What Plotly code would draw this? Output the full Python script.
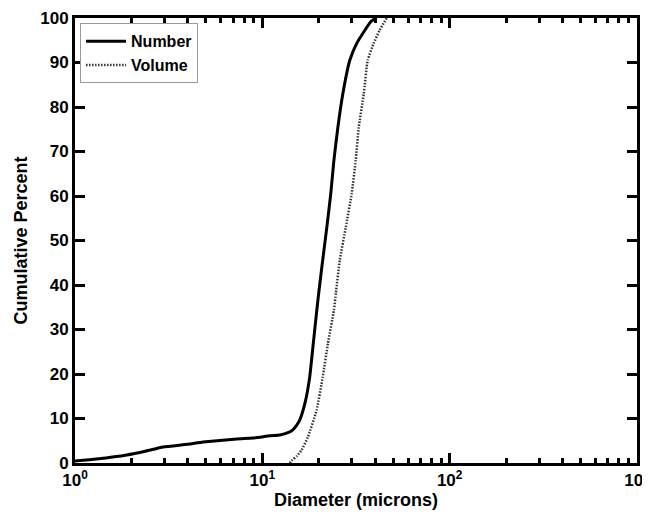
import plotly.graph_objects as go

# Number distribution (diameter in microns, cumulative percent)
number_d = [1.0, 1.3, 1.89, 2.4, 2.95, 4.0, 4.82, 7.31, 8.9, 10.96, 12.4, 13.7, 14.5, 15.2, 15.85, 16.9, 17.9, 18.71,
            19.53, 20.0, 21.0, 22.1, 23.2, 24.1, 25.3, 26.9, 29.3, 31.9, 35.2, 38.0, 40.3]
number_pct = [0.45, 0.9, 1.8, 2.7, 3.6, 4.2, 4.7, 5.4, 5.6, 6.1, 6.3, 6.8, 7.4, 8.4, 9.7, 13.5, 19.3, 26.9,
              34.3, 38.2, 45.6, 53.0, 60.6, 68.0, 75.4, 83.0, 90.5, 94.3, 97.2, 99.2, 100.0]

# Volume distribution
volume_d = [14.0, 14.5, 15.3, 16.2, 17.5, 19.5, 21.0, 22.4, 24.1, 24.7, 25.9, 27.9, 30.0, 31.5, 32.7, 34.8, 36.5,
            39.3, 42.2, 46.1]
volume_pct = [0.0, 0.7, 1.6, 2.9, 5.8, 11.9, 19.3, 26.9, 34.3, 38.2, 45.6, 53.0, 60.6, 68.0, 75.4, 83.0, 90.5,
              94.3, 97.2, 100.0]

x_tickvals = [1, 10, 100, 1000]
x_ticktext = ["10<sup>0</sup>", "10<sup>1</sup>", "10<sup>2</sup>", "10<sup>3</sup>"]
y_tickvals = list(range(0, 101, 10))

font_family = "Liberation Sans, Arial, sans-serif"

fig = go.Figure()
fig.add_trace(go.Scatter(x=number_d, y=number_pct, mode="lines", name="Number",
                         line=dict(color="black", width=3, shape="spline", smoothing=0.4)))
fig.add_trace(go.Scatter(x=volume_d, y=volume_pct, mode="lines", name="Volume",
                         line=dict(color="#333333", width=2.5, dash="1.5px,1.5px", shape="spline", smoothing=0.4)))

axis_common = dict(showline=True, linecolor="black", linewidth=3, mirror="ticks",
                   ticks="inside", tickcolor="black", tickwidth=3, ticklen=10,
                   showgrid=False, zeroline=False, automargin=False, ticklabeloverflow="allow",
                   tickfont=dict(family=font_family, size=17, color="black", weight="bold"))

fig.update_xaxes(type="log", range=[0, 3], tickvals=x_tickvals, ticktext=x_ticktext,
                 minor=dict(ticks="inside", dtick="D1", ticklen=5, tickwidth=2.5, tickcolor="black",
                            showgrid=False),
                 title=dict(text="Diameter (microns)", standoff=0,
                            font=dict(family=font_family, size=18, color="black", weight="bold")),
                 **axis_common)
fig.update_yaxes(range=[0, 100], tickvals=y_tickvals,
                 title=dict(text="Cumulative Percent", standoff=8,
                            font=dict(family=font_family, size=18, color="black", weight="bold")),
                 **axis_common)

fig.update_layout(
    width=642, height=511,
    margin=dict(l=67, r=13, t=10, b=56),
    paper_bgcolor="white", plot_bgcolor="white",
    showlegend=True,
    legend=dict(x=0.009, y=0.988, xanchor="left", yanchor="top",
                bgcolor="white", bordercolor="#999999", borderwidth=1,
                font=dict(family=font_family, size=16, color="black", weight="bold"),
                itemwidth=40, tracegroupgap=0),
)

fig.write_html("out.html")
